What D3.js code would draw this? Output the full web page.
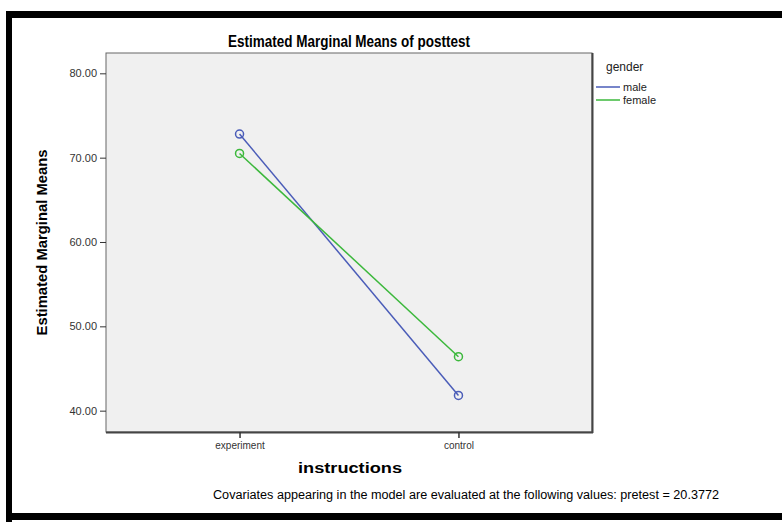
<!DOCTYPE html>
<html><head><meta charset="utf-8">
<script src="https://cdn.jsdelivr.net/npm/d3@7/dist/d3.min.js"></script>
<style>
body{margin:0;background:#fff;}
svg{display:block;font-family:"Liberation Sans",Arial,sans-serif;}
</style></head>
<body><svg id="c" width="782" height="522"></svg>
<script>
const categories = ["experiment", "control"];
const seriesNames = ["male", "female"];
const maleValues = [72.8, 41.8];
const femaleValues = [70.5, 46.4];
const yTicks = [40, 50, 60, 70, 80];
const colors = ["#4a5cb8", "#3cb83c"];

const svg = d3.select("#c");
const L = 106, R = 592, T = 53, B = 432;

// frame
svg.append("rect").attr("x", 6).attr("y", 11).attr("width", 800).attr("height", 7).attr("fill", "#000");
svg.append("rect").attr("x", 6).attr("y", 11).attr("width", 6).attr("height", 520).attr("fill", "#000");
svg.append("rect").attr("x", 6).attr("y", 513).attr("width", 800).attr("height", 7).attr("fill", "#000");

const x = d3.scalePoint().domain(categories).range([L, R]).padding(0.61);
const y = d3.scaleLinear().domain([37.47, 82.41]).range([B, T]);

svg.append("rect").attr("x", L).attr("y", T).attr("width", R - L).attr("height", B - T)
  .attr("fill", "#f0f0f0").attr("stroke", "#666").attr("stroke-width", 1);
svg.append("line").attr("x1", L).attr("x2", R + 1).attr("y1", B + 0.5).attr("y2", B + 0.5).attr("stroke", "#444").attr("stroke-width", 2);
svg.append("line").attr("x1", R + 0.5).attr("x2", R + 0.5).attr("y1", T).attr("y2", B + 1).attr("stroke", "#444").attr("stroke-width", 2);

const yAxis = svg.append("g").attr("transform", `translate(${L},0)`)
  .call(d3.axisLeft(y).tickValues(yTicks).tickFormat(d3.format(".2f")).tickSize(6).tickPadding(3));
yAxis.select(".domain").remove();
yAxis.selectAll("line").attr("stroke", "#333");
yAxis.selectAll("text").attr("font-size", 11).attr("fill", "#333").attr("font-family", "Liberation Sans, Arial, sans-serif");

const xAxis = svg.append("g").attr("transform", `translate(0,${B})`)
  .call(d3.axisBottom(x).tickSize(6).tickPadding(4));
xAxis.select(".domain").remove();
xAxis.selectAll("line").attr("stroke", "#333").attr("stroke-width", 1.5);
xAxis.selectAll("text").attr("font-size", 10).attr("fill", "#333").attr("font-family", "Liberation Sans, Arial, sans-serif");

const series = [maleValues, femaleValues];
const line = d3.line().x((d, i) => x(categories[i])).y(d => y(d));
series.forEach((vals, s) => {
  svg.append("path").datum(vals).attr("d", line).attr("fill", "none")
    .attr("stroke", colors[s]).attr("stroke-width", 1.5);
  svg.selectAll(null).data(vals).enter().append("circle")
    .attr("cx", (d, i) => x(categories[i])).attr("cy", d => y(d)).attr("r", 4)
    .attr("fill", "none").attr("stroke", colors[s]).attr("stroke-width", 1.5);
});

svg.append("text").attr("x", (L + R) / 2).attr("y", 47).attr("text-anchor", "middle")
  .attr("font-size", 16).attr("font-weight", "bold").attr("textLength", 242).attr("lengthAdjust", "spacingAndGlyphs")
  .text("Estimated Marginal Means of posttest");

svg.append("text").attr("transform", `translate(47,${(T + B) / 2}) rotate(-90)`).attr("text-anchor", "middle")
  .attr("font-size", 14).attr("font-weight", "bold").attr("textLength", 186).attr("lengthAdjust", "spacingAndGlyphs")
  .text("Estimated Marginal Means");

svg.append("text").attr("x", 350).attr("y", 473).attr("text-anchor", "middle")
  .attr("font-size", 14).attr("font-weight", "bold").attr("textLength", 104).attr("lengthAdjust", "spacingAndGlyphs")
  .text("instructions");

svg.append("text").attr("x", 466).attr("y", 499).attr("text-anchor", "middle")
  .attr("font-size", 12.5).attr("textLength", 506).attr("lengthAdjust", "spacingAndGlyphs")
  .text("Covariates appearing in the model are evaluated at the following values: pretest = 20.3772");

// legend
svg.append("text").attr("x", 606).attr("y", 71).attr("font-size", 12).attr("fill", "#222").text("gender");
seriesNames.forEach((n, i) => {
  const yy = 87 + i * 13;
  svg.append("line").attr("x1", 596).attr("x2", 620).attr("y1", yy).attr("y2", yy).attr("stroke", colors[i]).attr("stroke-width", 1.5);
  svg.append("text").attr("x", 623).attr("y", yy + 4).attr("font-size", 11).attr("fill", "#222").text(n);
});
</script></body></html>
